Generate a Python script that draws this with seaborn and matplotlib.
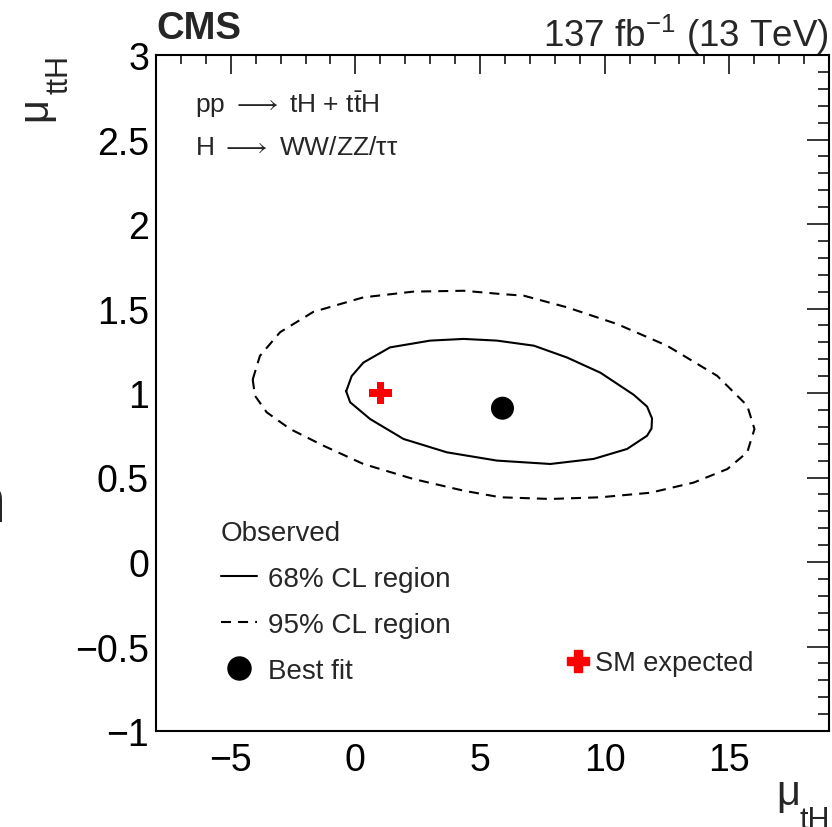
import seaborn as sns
import matplotlib.pyplot as plt
from matplotlib.lines import Line2D
from matplotlib.ticker import MultipleLocator

# 68% CL contour (mu_tH, mu_ttH)
cl68_x = [-0.37, -0.21, 0.59, 1.93, 3.67, 5.68, 7.82, 9.56, 10.90, 11.70, 11.88, 11.90,
          11.70, 11.16, 9.83, 8.49, 7.16, 5.68, 4.34, 3.00, 1.39, 0.32, -0.15, -0.37]
cl68_y = [1.01, 0.945, 0.846, 0.728, 0.649, 0.600, 0.580, 0.610, 0.669, 0.747, 0.79, 0.85,
          0.92, 0.99, 1.12, 1.21, 1.28, 1.31, 1.32, 1.31, 1.27, 1.18, 1.10, 1.01]

# 95% CL contour
cl95_x = [-4.12, -3.83, -3.02, -1.69, 0.32, 2.33, 4.34, 5.81, 6.75, 8.49, 10.50, 12.50,
          14.51, 15.72, 16.01, 15.72, 14.92, 13.57, 11.84, 9.83, 7.82, 5.81, 4.34, 2.33,
          0.32, -1.28, -2.62, -3.56, -4.03, -4.12]
cl95_y = [1.08, 1.22, 1.36, 1.48, 1.566, 1.600, 1.605, 1.586, 1.576, 1.507, 1.408, 1.28,
          1.102, 0.925, 0.787, 0.649, 0.550, 0.470, 0.410, 0.383, 0.373, 0.383, 0.422, 0.491,
          0.580, 0.688, 0.787, 0.886, 0.984, 1.08]

best_fit = (5.9, 0.91)
sm_expected = (1.0, 1.0)

x_ticks = [-5, 0, 5, 10, 15]
x_ticklabels = ["\u22125", "0", "5", "10", "15"]
y_ticks = [-1, -0.5, 0, 0.5, 1, 1.5, 2, 2.5, 3]
y_ticklabels = ["\u22121", "\u22120.5", "0", "0.5", "1", "1.5", "2", "2.5", "3"]

sns.set_style("white")
plt.rcParams["font.family"] = ["Liberation Sans", "DejaVu Sans"]
plt.rcParams["mathtext.fontset"] = "custom"
plt.rcParams["mathtext.rm"] = "Liberation Sans"
plt.rcParams["mathtext.it"] = "Liberation Sans:italic"
plt.rcParams["mathtext.bf"] = "Liberation Sans:bold"

W, H = 832, 828
fig = plt.figure(figsize=(W / 100, H / 100), dpi=100)
ax = fig.add_axes([156 / W, 1 - 732 / H, 673 / W, 676 / H])


def fx(px):
    return px / W


def fy(py):
    return 1 - py / H


sns.lineplot(x=cl95_x, y=cl95_y, sort=False, estimator=None, color="black",
             lw=1.5, linestyle=(0, (4.8, 3.4)), ax=ax)
sns.lineplot(x=cl68_x, y=cl68_y, sort=False, estimator=None, color="black",
             lw=1.5, ax=ax)
sns.scatterplot(x=[best_fit[0]], y=[best_fit[1]], s=275, color="black",
                edgecolor="none", ax=ax, zorder=5)
sns.scatterplot(x=[sm_expected[0]], y=[sm_expected[1]], s=260, marker="P",
                color="red", edgecolor="none", ax=ax, zorder=5)

ax.set_xlim(-8, 19)
ax.set_ylim(-1, 3)
ax.set_xticks(x_ticks)
ax.set_xticklabels(x_ticklabels)
ax.set_yticks(y_ticks)
ax.set_yticklabels(y_ticklabels)
ax.xaxis.set_minor_locator(MultipleLocator(1))
ax.yaxis.set_minor_locator(MultipleLocator(0.1))
ax.tick_params(axis="both", which="both", direction="in", top=True, right=True,
               width=1.1, labelsize=27, colors="black")
ax.tick_params(axis="x", which="major", length=13.5, pad=8)
ax.tick_params(axis="x", which="minor", length=6.7)
ax.tick_params(axis="y", which="major", length=15.5, pad=5)
ax.tick_params(axis="y", which="minor", length=7.8)
for sp in ax.spines.values():
    sp.set_visible(True)
    sp.set_color("black")
    sp.set_linewidth(1.5)

# axis titles (ROOT style, big subscripts)
fig.text(fx(800), fy(805), "\u03bc", fontsize=30, ha="right", va="baseline")
fig.text(fx(799), fy(829), "tH", fontsize=22, ha="left", va="baseline")
fig.text(fx(35), fy(109), "\u03bc", fontsize=30, ha="center", va="center", rotation=90)
fig.text(fx(60), fy(75), "ttH", fontsize=22, ha="center", va="center", rotation=90)

# header
fig.text(fx(156), fy(39), "CMS", fontsize=27.5, fontweight="bold", ha="left", va="baseline")
fig.text(fx(829), fy(47), r"137 fb$^{\mathrm{-1}}$ (13 TeV)", fontsize=26.5,
         ha="right", va="baseline")

# process labels
fig.text(fx(195), fy(113), r"pp $\longrightarrow$ tH + t$\bar{\mathrm{t}}$H", fontsize=19,
         ha="left", va="baseline")
fig.text(fx(195), fy(155), r"H $\longrightarrow$ WW/ZZ/$\mathrm{\tau\tau}$", fontsize=19,
         ha="left", va="baseline")

# legends
h_obs = [Line2D([], [], color="black", lw=1.5),
         Line2D([], [], color="black", lw=1.5, linestyle=(0, (4.8, 3.4))),
         Line2D([], [], color="black", lw=0, marker="o", markersize=16.6)]
leg1 = ax.legend(h_obs, ["68% CL region", "95% CL region", "Best fit"], title="Observed",
                 loc="upper left", bbox_to_anchor=(fx(221), fy(521)),
                 bbox_transform=fig.transFigure, frameon=False,
                 fontsize=20, title_fontsize=20, alignment="left",
                 handlelength=1.3, handletextpad=0.38, labelspacing=0.72,
                 borderpad=0, borderaxespad=0)
ax.add_artist(leg1)
h_sm = [Line2D([], [], color="red", lw=0, marker="P", markersize=16)]
ax.legend(h_sm, ["SM expected"], loc="upper left", bbox_to_anchor=(fx(566), fy(651)),
          bbox_transform=fig.transFigure, frameon=False, fontsize=19.5,
          handlelength=0.86, handletextpad=0.2, borderpad=0, borderaxespad=0)

# cropped letter at the left border of the original image
fig.text(fx(6), fy(522), "n", fontsize=47, ha="right", va="baseline")

fig.savefig("out.png", dpi=100)
